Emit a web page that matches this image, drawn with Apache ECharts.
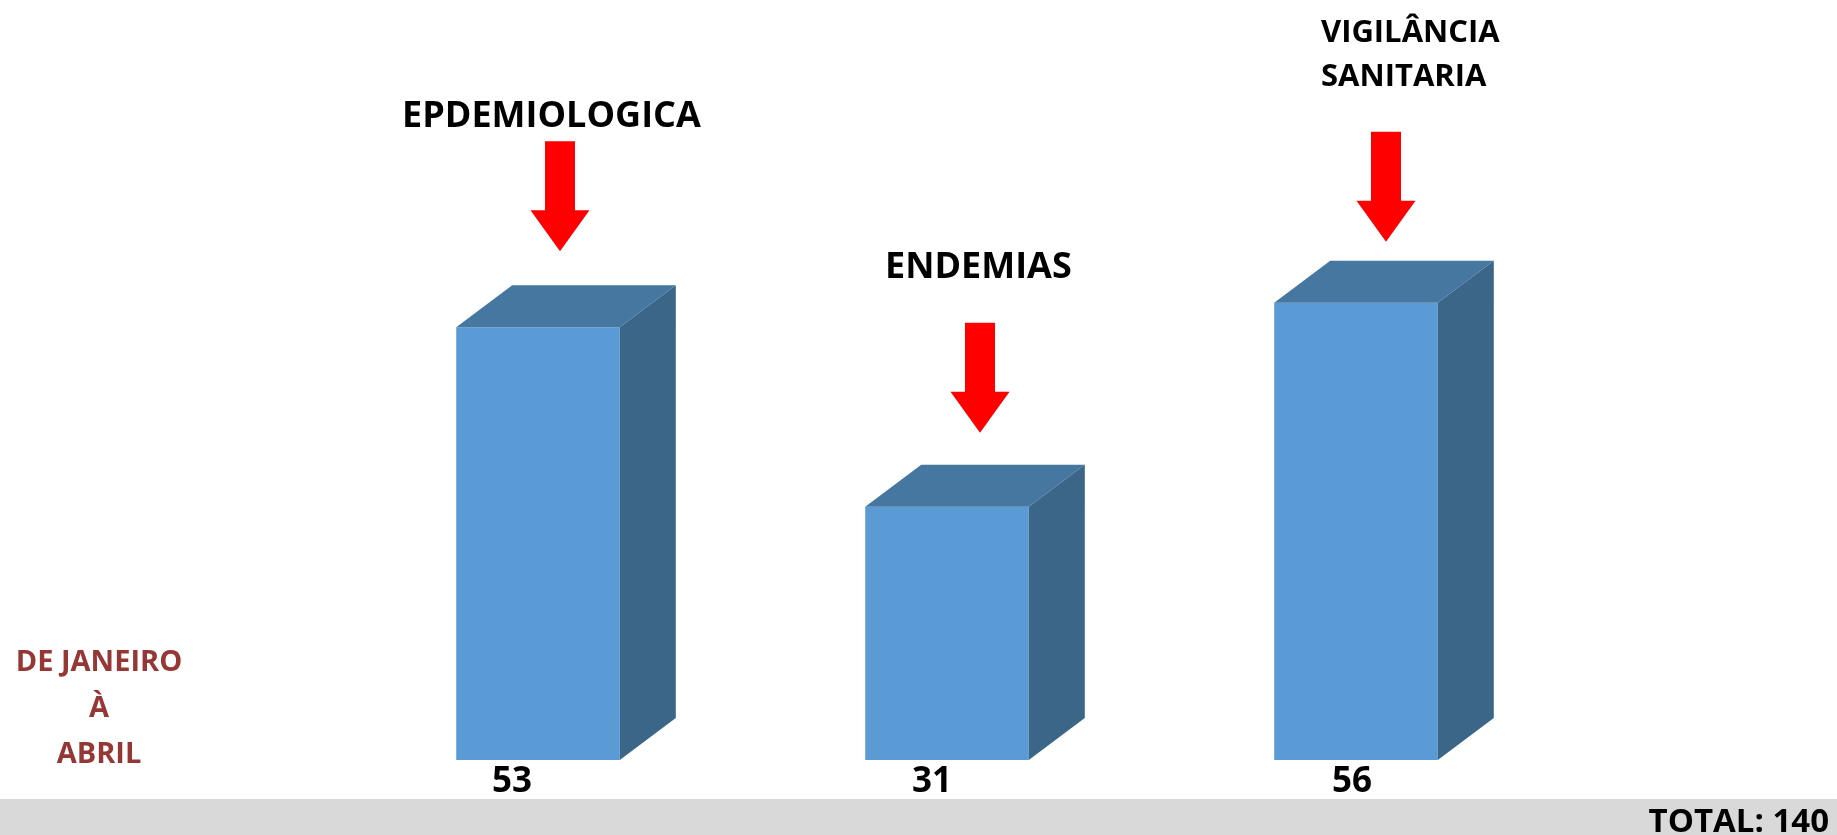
<!DOCTYPE html>
<html>
<head>
<meta charset="utf-8">
<script src="https://cdn.jsdelivr.net/npm/echarts@6/dist/echarts.min.js"></script>
<style>
  html, body { margin: 0; padding: 0; background: #fff; }
  #chart { width: 1837px; height: 835px; }
</style>
</head>
<body>
<div id="chart"></div>
<script>
// data
const categories = ['EPDEMIOLOGICA', 'ENDEMIAS', 'VIGILÂNCIA\nSANITARIA'];
const values = [53, 31, 56];
const periodLabel = 'DE JANEIRO\nÀ\nABRIL';
const total = values.reduce((a, b) => a + b, 0);

// annotation placement relative to each bar (px)
const arrowGap = [34, 32, 19];
const arrowShift = [22, 33, 30];
const labelOffset = [[-136, -210], [-62, -239], [-35, -247]];
const labelSize = [36, 36, 31];
const valueShift = [-26, -15, -4];

const DX = 56, DY = 42;
const FONT = '"Open Sans", "Noto Sans", sans-serif';

const chart = echarts.init(document.getElementById('chart'));

function renderBar(params, api) {
  const i = api.value(0);
  const top = api.coord([i, api.value(1)]);
  const bottom = api.coord([i, 0]);
  const w = api.size([1, 0])[0] * 0.4;
  const cx = top[0];
  const x0 = cx - w / 2, x1 = cx + w / 2;
  const ty = top[1], by = bottom[1];

  const tipY = ty - DY - arrowGap[i];
  const ax = cx + arrowShift[i];
  const [lx, ly] = labelOffset[i];

  return {
    type: 'group',
    children: [
      {
        type: 'rect',
        shape: { x: x0, y: ty, width: w, height: by - ty },
        style: { fill: '#5b9bd5' }
      },
      {
        type: 'polygon',
        shape: { points: [[x0, ty], [x1, ty], [x1 + DX, ty - DY], [x0 + DX, ty - DY]] },
        style: { fill: '#4677a1' }
      },
      {
        type: 'polygon',
        shape: { points: [[x1, ty], [x1 + DX, ty - DY], [x1 + DX, by - DY], [x1, by]] },
        style: { fill: '#3b6688' }
      },
      {
        type: 'polygon',
        shape: {
          points: [
            [ax - 15, tipY - 110], [ax + 15, tipY - 110], [ax + 15, tipY - 41],
            [ax + 29.5, tipY - 41], [ax, tipY], [ax - 29.5, tipY - 41], [ax - 15, tipY - 41]
          ]
        },
        style: { fill: '#ff0000' }
      },
      {
        type: 'text',
        style: {
          text: categories[i],
          x: cx + lx,
          y: ty + ly,
          fill: '#000',
          font: 'bold ' + labelSize[i] + 'px ' + FONT,
          align: 'left',
          verticalAlign: 'middle',
          lineHeight: 44
        }
      },
      {
        type: 'text',
        style: {
          text: String(api.value(1)),
          x: cx + valueShift[i],
          y: by + 22,
          fill: '#000',
          font: 'bold 35px ' + FONT,
          align: 'center',
          verticalAlign: 'middle'
        }
      }
    ]
  };
}

const option = {
  animation: false,
  grid: { left: 333.5, right: 276.5, top: 25, bottom: 75 },
  xAxis: {
    type: 'category',
    data: categories,
    show: false
  },
  yAxis: {
    type: 'value',
    min: 0,
    max: 90,
    show: false
  },
  graphic: [
    {
      type: 'rect',
      x: 0,
      y: 799,
      shape: { width: 1837, height: 36 },
      style: { fill: '#d9d9d9' },
      z: -1
    },
    {
      type: 'text',
      x: 1829,
      y: 823,
      style: {
        text: 'TOTAL: ' + total,
        font: 'bold 33px ' + FONT,
        fill: '#000',
        align: 'right',
        verticalAlign: 'middle'
      }
    },
    {
      type: 'text',
      x: 99,
      y: 709,
      style: {
        text: periodLabel,
        font: 'bold 29px ' + FONT,
        fill: '#953735',
        align: 'center',
        verticalAlign: 'middle',
        lineHeight: 46
      }
    }
  ],
  series: [{
    type: 'custom',
    renderItem: renderBar,
    encode: { x: 0, y: 1 },
    data: values.map((v, i) => [i, v])
  }]
};

chart.setOption(option);
</script>
</body>
</html>
